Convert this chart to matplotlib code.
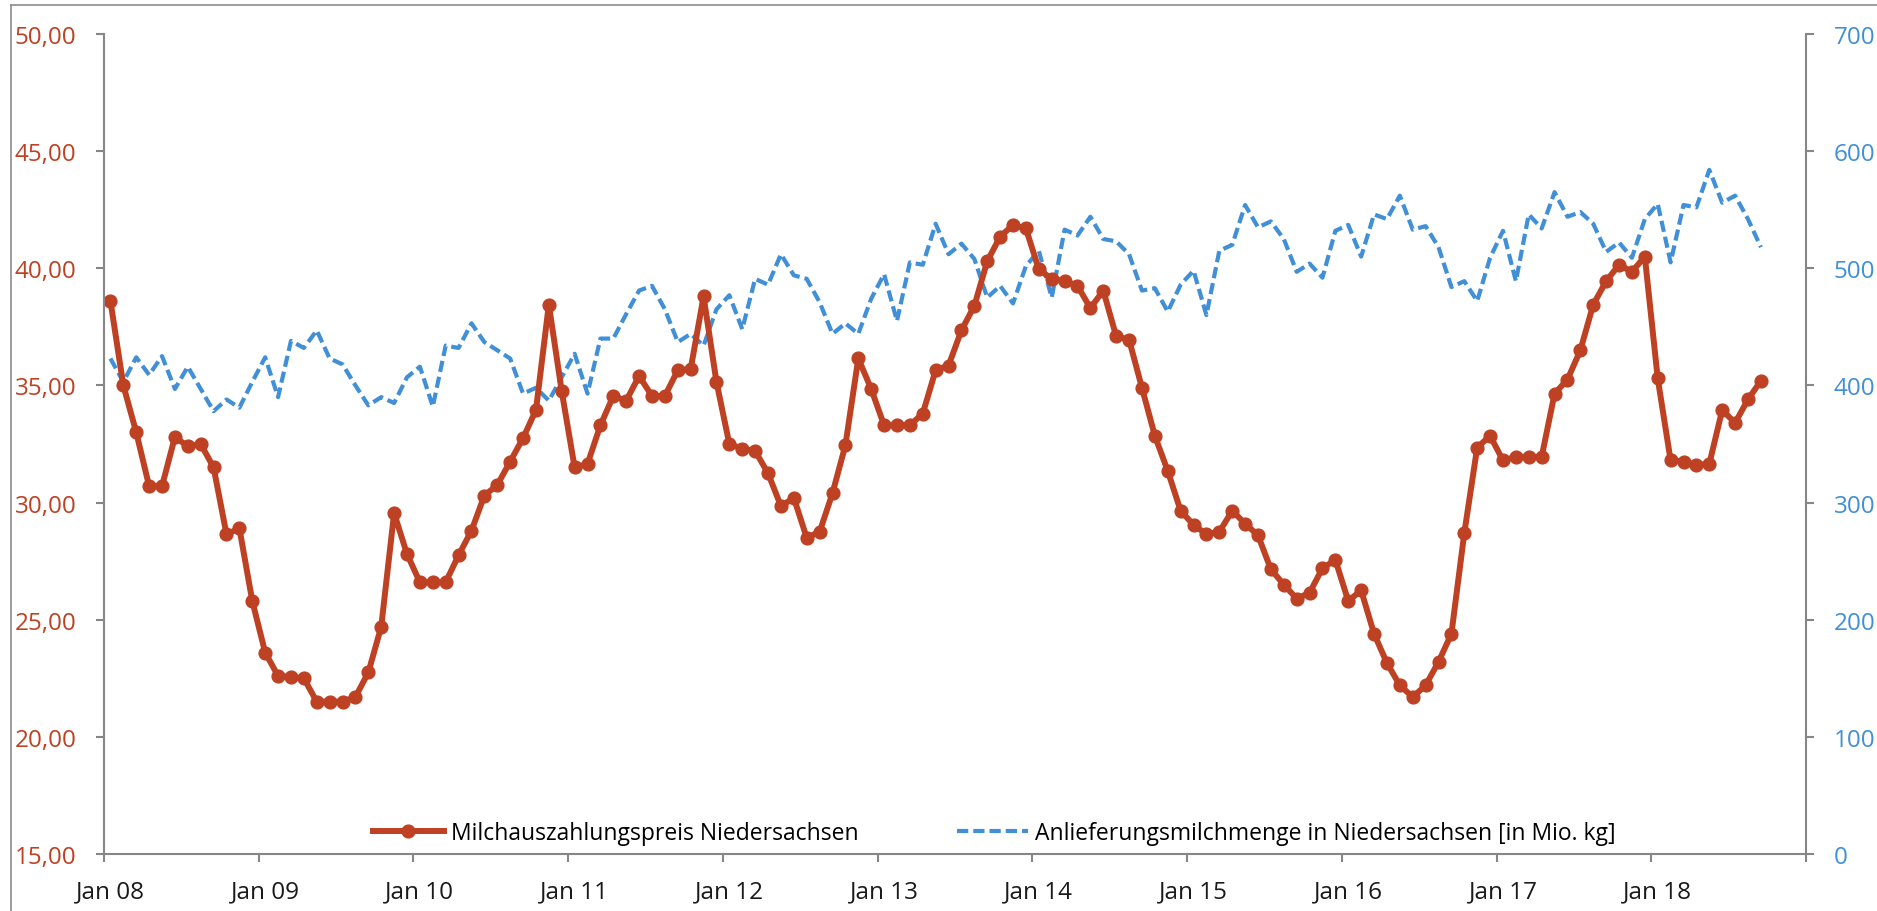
import matplotlib
matplotlib.use("Agg")
import matplotlib.pyplot as plt
from matplotlib.lines import Line2D
import numpy as np

# monthly values, Jan 2008 .. Sep 2018
price = [
    38.6, 35.0, 33.0, 30.7, 30.7, 32.8, 32.4, 32.5, 31.5, 28.65, 28.9, 25.8,
    23.6, 22.6, 22.55, 22.5, 21.5, 21.5, 21.5, 21.7, 22.75, 24.7, 29.55, 27.8,
    26.6, 26.6, 26.6, 27.75, 28.8, 30.3, 30.75, 31.75, 32.75, 33.95, 38.45, 34.75,
    31.5, 31.65, 33.3, 34.55, 34.35, 35.4, 34.55, 34.55, 35.65, 35.7, 38.8, 35.15,
    32.5, 32.3, 32.2, 31.25, 29.85, 30.2, 28.5, 28.75, 30.4, 32.45, 36.15, 34.85,
    33.3, 33.3, 33.3, 33.8, 35.65, 35.85, 37.35, 38.4, 40.3, 41.35, 41.85, 41.7,
    39.95, 39.55, 39.45, 39.25, 38.3, 39.05, 37.1, 36.95, 34.9, 32.85, 31.35, 29.65,
    29.05, 28.65, 28.75, 29.65, 29.1, 28.6, 27.15, 26.5, 25.9, 26.15, 27.2, 27.55,
    25.8, 26.25, 24.4, 23.15, 22.2, 21.7, 22.2, 23.2, 24.4, 28.7, 32.35, 32.85,
    31.8, 31.95, 31.95, 31.95, 34.65, 35.25, 36.5, 38.45, 39.45, 40.15, 39.85, 40.5,
    35.3, 31.8, 31.75, 31.6, 31.65, 33.95, 33.4, 34.4, 35.2,
]
delivery = [
    423, 403, 424, 409, 425, 397, 416, 397, 378, 388, 381, 403,
    424, 390, 438, 432, 447, 423, 418, 400, 383, 390, 385, 407,
    416, 382, 434, 432, 453, 437, 430, 423, 393, 398, 387, 407,
    427, 393, 440, 440, 461, 481, 485, 465, 437, 444, 434, 465,
    477, 448, 491, 486, 512, 494, 491, 471, 444, 453, 444, 474,
    495, 455, 505, 503, 538, 512, 521, 508, 475, 485, 470, 502,
    515, 475, 533, 528, 544, 525, 523, 512, 481, 483, 463, 486,
    498, 460, 515, 520, 554, 535, 540, 525, 497, 504, 492, 532,
    537, 510, 546, 542, 562, 533, 536, 518, 484, 489, 472, 509,
    532, 489, 546, 534, 565, 544, 548, 538, 514, 522, 509, 542,
    555, 505, 554, 552, 584, 556, 562, 542, 518,
]
tick_labels = ["Jan 08", "Jan 09", "Jan 10", "Jan 11", "Jan 12", "Jan 13",
               "Jan 14", "Jan 15", "Jan 16", "Jan 17", "Jan 18"]
n_slots = 132  # axis runs to Dec 18
price_ticks = [15, 20, 25, 30, 35, 40, 45, 50]
delivery_ticks = [0, 100, 200, 300, 400, 500, 600, 700]

RED = "#BE4123"
BLUE = "#418FD6"
GREY = "#868686"

plt.rcParams["font.family"] = ["Open Sans", "DejaVu Sans"]

W, H = 1877, 912
fig = plt.figure(figsize=(W / 100, H / 100), dpi=100)
ax = fig.add_axes([104 / W, 1 - 855 / H, (1806 - 104) / W, (855 - 35) / H])
ax2 = ax.twinx()

x = np.arange(len(price)) + 0.5
blue_line, = ax2.plot(x, delivery, color=BLUE, lw=3.0, dashes=(2.7, 1.2),
                      label="Anlieferungsmilchmenge in Niedersachsen [in Mio. kg]")
red_line, = ax.plot(x, price, color=RED, lw=4.3, marker="o", ms=9.2,
                    label="Milchauszahlungspreis Niedersachsen")
ax.set_zorder(ax2.get_zorder() + 1)
ax.patch.set_visible(False)

ax.set_xlim(0, n_slots)
ax.set_ylim(15, 50)
ax2.set_ylim(0, 700)

ax.set_yticks(price_ticks)
ax.set_yticklabels([f"{v:.2f}".replace(".", ",") for v in price_ticks])
ax2.set_yticks(delivery_ticks)
ax2.set_yticklabels([str(v) for v in delivery_ticks])

ax.set_xticks(range(0, n_slots + 1, 12))
ax.set_xticklabels([])
ax.set_xticks(np.arange(len(tick_labels)) * 12 + 0.5, minor=True)
ax.set_xticklabels(tick_labels, minor=True)

for a in (ax, ax2):
    for s in a.spines.values():
        s.set_color(GREY)
        s.set_linewidth(1.5)
    a.spines["top"].set_visible(False)
ax.spines["right"].set_visible(False)
ax2.spines["left"].set_visible(False)
ax2.spines["bottom"].set_visible(False)

ax.tick_params(axis="y", direction="out", length=5.8, width=1.5, color=GREY,
               labelcolor=RED, labelsize=17.5, pad=14)
ax2.tick_params(axis="y", direction="out", length=5.8, width=1.5, color=GREY,
                labelcolor=BLUE, labelsize=17.5, pad=14)
ax.tick_params(axis="x", which="major", direction="out", length=5.8, width=1.5, color=GREY)
ax.tick_params(axis="x", which="minor", length=0, labelsize=17.5,
               labelcolor="#1a1a1a", pad=18)

ax.legend(handles=[red_line, blue_line], loc="center", bbox_to_anchor=(0.523, 0.026),
          ncol=2, frameon=False, fontsize=16.5, handlelength=3.1, handletextpad=0.3,
          columnspacing=4.3)

# outer chart frame
fig.add_artist(Line2D([11 / W, 11 / W], [0, 1 - 6 / H], transform=fig.transFigure,
                      color="#8c8c8c", lw=1.2))
fig.add_artist(Line2D([11 / W, 1], [1 - 6 / H, 1 - 6 / H], transform=fig.transFigure,
                      color="#8c8c8c", lw=1.2))

fig.savefig("out.png", dpi=100)
plt.close(fig)
